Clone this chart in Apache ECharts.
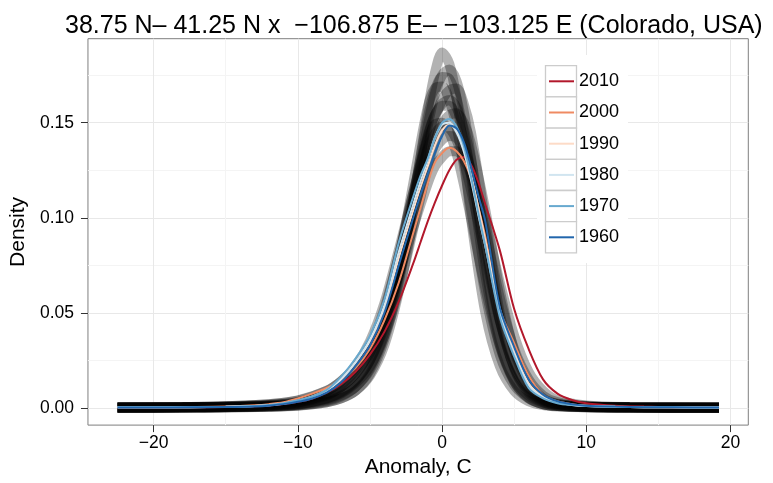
<!DOCTYPE html>
<html><head><meta charset="utf-8">
<script src="https://cdn.jsdelivr.net/npm/echarts@6/dist/echarts.min.js"></script>
<style>html,body{margin:0;padding:0;background:#fff}#c{width:773px;height:483px}</style>
</head><body><div id="c"></div>
<script>
const titleText = '38.75 N\u2013 41.25 N x  \u2212106.875 E\u2013 \u2212103.125 E (Colorado, USA)';
const xName = 'Anomaly, C';
const yName = 'Density';
const xTicks = [-20, -10, 0, 10, 20];
const xMinor = [-15, -5, 5, 15];
const yTicks = [0, 0.05, 0.10, 0.15];
const yMinor = [0.025, 0.075, 0.125, 0.175];
const decades = ['2010', '2000', '1990', '1980', '1970', '1960'];
const decadeColors = ['#b2182b', '#ef8a62', '#fddbc7', '#d1e5f0', '#67a9cf', '#2166ac'];

// x positions for decade curves
const xs = [-22.5,-20,-17.5,-15,-13,-12,-11,-10,-9,-8,-7,-6,-5,-4,-3,-2,-1.5,-1,-0.5,0,0.5,1,1.5,2,2.5,3,4,5,6,7,8,9,10,12,14,16,19.2];
const d2010 = [0.0002,0.0002,0.0003,0.0005,0.0009,0.0013,0.002,0.0032,0.005,0.008,0.0125,0.019,0.028,0.04,0.056,0.076,0.087,0.098,0.108,0.117,0.125,0.1305,0.132,0.128,0.119,0.107,0.083,0.052,0.031,0.015,0.0075,0.0042,0.0025,0.0012,0.0007,0.0004,0.0003];
const d2000 = [0.0003,0.0003,0.0005,0.0008,0.0014,0.002,0.003,0.005,0.0075,0.0105,0.0145,0.021,0.031,0.046,0.066,0.092,0.105,0.118,0.129,0.134,0.1368,0.135,0.13,0.121,0.106,0.09,0.052,0.034,0.017,0.007,0.0035,0.002,0.0012,0.0007,0.0004,0.0003,0.0002];
const d1990 = [0.0003,0.0003,0.0004,0.0006,0.001,0.0015,0.0024,0.0038,0.006,0.0095,0.0155,0.024,0.035,0.052,0.079,0.104,0.116,0.127,0.138,0.146,0.149,0.146,0.137,0.123,0.106,0.088,0.052,0.03,0.013,0.006,0.003,0.0017,0.0011,0.0006,0.0004,0.0003,0.0002];
const d1980 = [0.0003,0.0003,0.0004,0.0006,0.001,0.0014,0.0022,0.0036,0.0055,0.009,0.015,0.024,0.036,0.054,0.082,0.107,0.119,0.13,0.142,0.149,0.15,0.145,0.135,0.12,0.102,0.085,0.05,0.028,0.012,0.0055,0.0028,0.0016,0.001,0.0006,0.0004,0.0003,0.0002];
const d1970 = [0.0003,0.0003,0.0004,0.0006,0.001,0.0015,0.0025,0.004,0.006,0.0095,0.0165,0.026,0.038,0.057,0.087,0.111,0.122,0.131,0.142,0.150,0.152,0.148,0.138,0.122,0.103,0.085,0.048,0.027,0.0105,0.005,0.0025,0.0015,0.001,0.0006,0.0004,0.0003,0.0002];
const d1960 = [0.0002,0.0002,0.0003,0.0005,0.0008,0.0012,0.002,0.0032,0.005,0.008,0.0135,0.022,0.033,0.05,0.075,0.1,0.112,0.123,0.134,0.143,0.1486,0.147,0.14,0.127,0.112,0.098,0.053,0.032,0.015,0.007,0.0035,0.002,0.0012,0.0007,0.0004,0.0003,0.0002];

// x positions for ensemble member curves
const xsE = [-22.5,-18,-15,-12,-10,-8,-7,-6,-5,-4,-3,-2,-1,-0.5,0,0.5,1,1.5,2,3,4,5,6,7,8,10,13,19.2];
const ens01 = [0.0001,0.0002,0.0003,0.0006,0.0012,0.003,0.005,0.009,0.018,0.036,0.066,0.108,0.156,0.176,0.187,0.181,0.163,0.135,0.1,0.05,0.022,0.009,0.0035,0.0015,0.0008,0.0004,0.0002,0.0001];
const ens02 = [0.0001,0.0002,0.0003,0.0007,0.0014,0.0035,0.006,0.011,0.021,0.04,0.07,0.108,0.148,0.165,0.175,0.178,0.172,0.156,0.132,0.076,0.035,0.014,0.005,0.002,0.001,0.0004,0.0002,0.0001];
const ens03 = [0.0002,0.0003,0.0005,0.001,0.002,0.005,0.008,0.014,0.025,0.045,0.077,0.118,0.158,0.168,0.169,0.162,0.148,0.128,0.105,0.06,0.028,0.012,0.005,0.002,0.001,0.0005,0.0002,0.0001];
const ens04 = [0.0001,0.0002,0.0003,0.0007,0.0013,0.003,0.005,0.009,0.017,0.033,0.061,0.098,0.137,0.152,0.162,0.167,0.168,0.16,0.145,0.098,0.05,0.021,0.008,0.003,0.0013,0.0005,0.0002,0.0001];
const ens05 = [0.0002,0.0004,0.0006,0.0013,0.0025,0.0065,0.011,0.018,0.03,0.05,0.08,0.113,0.143,0.154,0.159,0.159,0.153,0.141,0.124,0.084,0.046,0.022,0.01,0.004,0.002,0.0007,0.0003,0.0002];
const ens06 = [0.0001,0.0002,0.0004,0.0009,0.0018,0.0045,0.0075,0.013,0.022,0.038,0.062,0.094,0.127,0.14,0.149,0.154,0.155,0.15,0.139,0.104,0.062,0.03,0.013,0.005,0.0022,0.0008,0.0003,0.0001];
const ens07 = [0.0003,0.0005,0.0009,0.002,0.004,0.009,0.014,0.022,0.035,0.055,0.083,0.113,0.141,0.149,0.15,0.145,0.134,0.118,0.1,0.063,0.033,0.015,0.0065,0.0028,0.0013,0.0005,0.0002,0.0001];
const ens08 = [0.0002,0.0004,0.0007,0.0015,0.003,0.007,0.011,0.018,0.029,0.046,0.07,0.1,0.127,0.136,0.141,0.143,0.142,0.136,0.125,0.093,0.058,0.031,0.015,0.0065,0.003,0.001,0.0004,0.0002];
const ens09 = [0.0003,0.0005,0.0009,0.002,0.0038,0.009,0.014,0.021,0.032,0.048,0.07,0.095,0.118,0.127,0.132,0.135,0.135,0.131,0.123,0.098,0.066,0.038,0.019,0.009,0.004,0.0013,0.0005,0.0002];
const ens10 = [0.0001,0.0002,0.0004,0.0008,0.0016,0.004,0.0065,0.011,0.02,0.038,0.068,0.11,0.152,0.167,0.174,0.173,0.163,0.145,0.122,0.07,0.033,0.014,0.0055,0.002,0.001,0.0004,0.0002,0.0001];
const ens11 = [0.0002,0.0003,0.0005,0.0011,0.002,0.005,0.0085,0.0145,0.025,0.043,0.072,0.108,0.142,0.154,0.16,0.162,0.158,0.147,0.131,0.088,0.047,0.021,0.009,0.0035,0.0016,0.0006,0.0002,0.0001];
const ens12 = [0.0002,0.0004,0.0007,0.0015,0.003,0.0075,0.012,0.02,0.032,0.052,0.08,0.11,0.136,0.144,0.148,0.147,0.141,0.13,0.115,0.08,0.046,0.024,0.011,0.0045,0.002,0.0007,0.0003,0.0002];

const FONT = '"Liberation Sans", Arial, Helvetica, sans-serif';
const X_MIN = -24.55, X_MAX = 21.23, Y_MIN = -0.00903, Y_MAX = 0.1942;

const ensembles = [ens01, ens02, ens03, ens04, ens05, ens06, ens07, ens08, ens09, ens10, ens11, ens12];
const decadeValues = [d2010, d2000, d1990, d1980, d1970, d1960];

const series = [];
ensembles.forEach((arr, i) => {
  series.push({
    type: 'line', name: 'member' + (i + 1), silent: true,
    data: xsE.map((x, j) => [x, arr[j]]),
    symbol: 'none', smooth: 0.3, z: 2,
    lineStyle: { color: '#000', width: 10, opacity: 0.3 }
  });
});
decadeValues.forEach((arr, i) => {
  series.push({
    type: 'line', name: decades[i],
    data: xs.map((x, j) => [x, arr[j]]),
    symbol: 'none', smooth: 0.3, z: 3,
    itemStyle: { color: decadeColors[i] },
    lineStyle: { color: decadeColors[i], width: 2 }
  });
});

const fmtX = v => (v < 0 ? '\u2212' + Math.abs(v) : String(v));

const legendTop = 65.7, keyH = 31.2;
const graphics = [{
  type: 'rect', z: 1, shape: { x: 537, y: 55, width: 91, height: 208 }, style: { fill: '#fff' }
}];
decades.forEach((d, i) => {
  graphics.push({
    type: 'rect', z: 1,
    shape: { x: 545.5, y: legendTop + keyH * i, width: 31, height: keyH },
    style: { fill: '#fff', stroke: '#cccccc', lineWidth: 1.3 }
  });
});

const chart = echarts.init(document.getElementById('c'), null, { renderer: 'canvas' });
chart.setOption({
  animation: false,
  backgroundColor: '#fff',
  title: {
    text: titleText, left: 60, top: 9,
    textStyle: { fontSize: 25, fontWeight: 'normal', color: '#000', fontFamily: FONT }
  },
  grid: { left: 85, right: 24.7, top: 38.7, bottom: 55, show: true, borderColor: '#7f7f7f', borderWidth: 1, backgroundColor: 'transparent' },
  legend: {
    data: decades, orient: 'vertical', left: 549, top: legendTop, padding: 0,
    icon: 'rect', itemWidth: 25, itemHeight: 2, itemGap: 0, selectedMode: false,
    textStyle: { fontSize: 18, color: '#000', fontFamily: FONT, lineHeight: keyH }
  },
  graphic: graphics,
  xAxis: [{
    type: 'value', min: X_MIN, max: X_MAX, position: 'bottom',
    name: xName, nameLocation: 'middle', nameGap: 29,
    nameTextStyle: { fontSize: 21, color: '#000', fontFamily: FONT },
    axisLine: { show: false, onZero: false },
    axisTick: { show: true, length: 7, customValues: xTicks, lineStyle: { color: '#333', width: 1 } },
    axisLabel: { customValues: xTicks, formatter: fmtX, margin: 9, fontSize: 17.5, color: '#000', fontFamily: FONT },
    splitLine: { show: true, lineStyle: { color: '#e8e8e8', width: 1 } }
  }, {
    type: 'value', min: X_MIN, max: X_MAX, position: 'top',
    axisLine: { show: false, onZero: false }, axisLabel: { show: false },
    axisTick: { show: false, customValues: xMinor },
    splitLine: { show: true, lineStyle: { color: '#f4f4f4', width: 1 } }
  }],
  yAxis: [{
    type: 'value', min: Y_MIN, max: Y_MAX, position: 'left',
    name: yName, nameLocation: 'middle', nameGap: 48, nameRotate: 90,
    nameTextStyle: { fontSize: 21, color: '#000', fontFamily: FONT },
    axisLine: { show: false, onZero: false },
    axisTick: { show: true, length: 7, customValues: yTicks, lineStyle: { color: '#333', width: 1 } },
    axisLabel: { customValues: yTicks, formatter: v => v.toFixed(2), margin: 14, fontSize: 17.5, color: '#000', fontFamily: FONT },
    splitLine: { show: true, lineStyle: { color: '#e8e8e8', width: 1 } }
  }, {
    type: 'value', min: Y_MIN, max: Y_MAX, position: 'right',
    axisLine: { show: false, onZero: false }, axisLabel: { show: false },
    axisTick: { show: false, customValues: yMinor },
    splitLine: { show: true, lineStyle: { color: '#f4f4f4', width: 1 } }
  }],
  series: series
});
</script>
</body></html>
